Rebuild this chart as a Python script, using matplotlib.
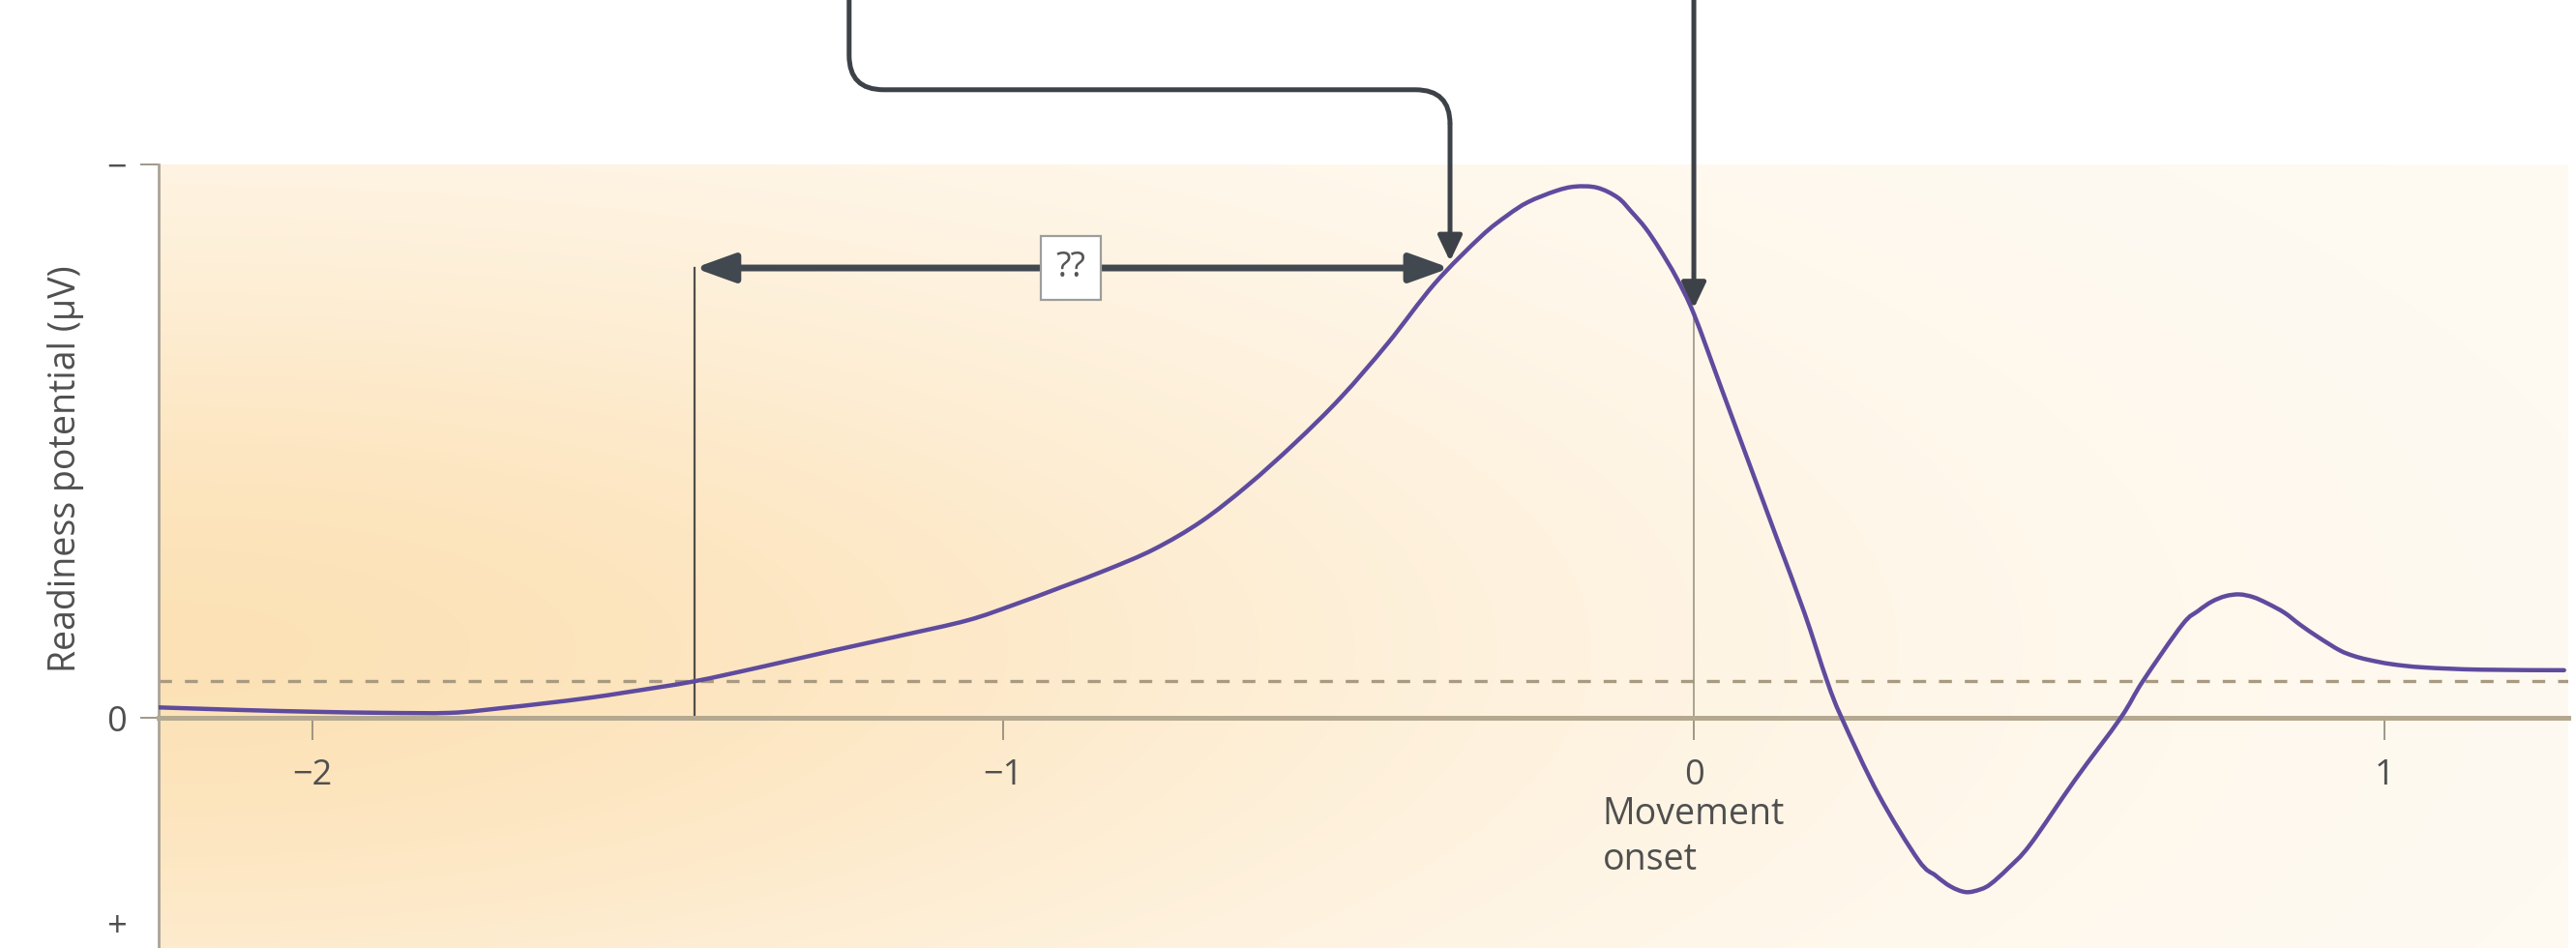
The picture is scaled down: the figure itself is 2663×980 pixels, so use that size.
import numpy as np
import matplotlib
matplotlib.use("Agg")
import matplotlib.pyplot as plt
from matplotlib.path import Path
from matplotlib.patches import PathPatch, FancyArrowPatch, ArrowStyle

plt.rcParams["font.family"] = ["Open Sans", "DejaVu Sans"]

# Averaged readiness potential (µV, negativity plotted upwards) around movement onset (s)
time_s = [-2.228, -2.10, -2.00, -1.90, -1.80, -1.73, -1.665, -1.60, -1.541, -1.447,
          -1.35, -1.248, -1.15, -1.052, -0.985, -0.916, -0.849, -0.781, -0.713, -0.646,
          -0.578, -0.511, -0.443, -0.375, -0.308, -0.27, -0.24, -0.20, -0.172, -0.14,
          -0.11, -0.09, -0.07, -0.05, -0.025, 0.0, 0.04, 0.08, 0.12, 0.16, 0.193, 0.214,
          0.267, 0.325, 0.35, 0.372, 0.394, 0.415, 0.43, 0.455, 0.487, 0.552, 0.618,
          0.65, 0.707, 0.73, 0.75, 0.77, 0.79, 0.81, 0.83, 0.855, 0.878, 0.905, 0.935,
          0.955, 0.976, 1.01, 1.057, 1.139, 1.26]
rp_uv = [-0.19, -0.14, -0.11, -0.09, -0.09, -0.17, -0.26, -0.36, -0.47, -0.66,
         -0.92, -1.21, -1.48, -1.76, -2.04, -2.36, -2.68, -3.05, -3.55, -4.20,
         -4.96, -5.79, -6.77, -7.85, -8.70, -9.08, -9.32, -9.52, -9.60, -9.58,
         -9.40, -9.14, -8.85, -8.48, -7.95, -7.30, -5.95, -4.60, -3.25, -1.90, -0.66, 0.0,
         1.38, 2.57, 2.85, 3.05, 3.15, 3.10, 3.00, 2.72, 2.29, 1.12, 0.0,
         -0.66, -1.68, -1.93, -2.10, -2.20, -2.23, -2.18, -2.07, -1.90, -1.68, -1.45, -1.22,
         -1.12, -1.05, -0.97, -0.91, -0.87, -0.86]
assert len(time_s) == len(rp_uv)

threshold_uv = -0.66          # dashed reference level
onset_time = -1.447           # where the potential leaves the baseline
awareness_time = -0.353       # reported time of conscious intention
x_ticks = [-2, -1, 0, 1]
x_tick_labels = ["\u22122", "\u22121", "0", "1"]
y_ticks = [-10, 0, 3.72]
y_tick_labels = ["\u2212", "0", "+"]


def smooth_path(xs, ys):
    """Cubic Bezier path passing through every sample (Catmull-Rom tangents)."""
    p = np.column_stack([xs, ys])
    n = len(p)
    verts = [tuple(p[0])]
    codes = [Path.MOVETO]
    for i in range(n - 1):
        p0 = p[i - 1] if i > 0 else p[i]
        p1, p2 = p[i], p[i + 1]
        p3 = p[i + 2] if i + 2 < n else p[i + 1]
        c1 = p1 + (p2 - p0) / 6.0
        c2 = p2 - (p3 - p1) / 6.0
        verts += [tuple(c1), tuple(c2), tuple(p2)]
        codes += [Path.CURVE4] * 3
    return Path(verts, codes)


W, H = 2663, 980
fig = plt.figure(figsize=(W / 100, H / 100), dpi=100)
fig.patch.set_facecolor("white")
ax = fig.add_axes([164 / W, 0, (2655 - 164) / W, 810 / H])

# warm background glow, strongest on the left around the baseline
nx, ny = 700, 250
xf = np.linspace(0, 1, nx)[None, :]
yf = np.linspace(0, 1, ny)[:, None]
w = np.exp(-(xf / 0.55) ** 2) * np.exp(-((yf - 0.38) / 0.55) ** 2)
base = np.array([1.0, 0.982, 0.952])
peak = np.array([0.99, 0.885, 0.715])
img = base + w[..., None] * (peak - base)
ax.imshow(img, extent=[0, 1, 0, 1], transform=ax.transAxes, origin="lower",
          aspect="auto", zorder=0, interpolation="bilinear")

ax.set_xlim(-2.2227, 1.266)
ax.set_ylim(4.16, -10)

# axes styling
for s in ("top", "right"):
    ax.spines[s].set_visible(False)
ax.spines["bottom"].set_position(("data", 0))
ax.spines["bottom"].set_color("#b4a990")
ax.spines["bottom"].set_linewidth(3.6)
ax.spines["left"].set_color("#a9a397")
ax.spines["left"].set_linewidth(2)

ax.set_xticks(x_ticks)
ax.set_xticklabels(x_tick_labels)
ax.tick_params(axis="x", direction="out", length=16.5, width=1.2, color="#8f8676",
               pad=14, labelsize=26, labelcolor="#4f4f4f")
ax.set_yticks(y_ticks)
ax.set_yticklabels(y_tick_labels)
ax.tick_params(axis="y", direction="out", length=14, width=1.2, color="#8f8676",
               pad=10, labelsize=26, labelcolor="#4f4f4f")
ax.yaxis.get_major_ticks()[2].tick1line.set_visible(False)

ax.text(0, 1.42, "Movement\nonset", ha="center", va="top", multialignment="left",
        fontsize=27, color="#4f4f4f", linespacing=1.3)
fig.text(68 / W, 1 - 485 / H, "Readiness potential (\u00b5V)", rotation=90,
         ha="center", va="center", fontsize=27, color="#4f4f4f")

# dashed threshold
ax.axhline(threshold_uv, color="#a89a80", lw=2.4, ls=(0, (4.0, 4.0)), zorder=2)

t_arr = np.array(time_s)
v_arr = np.array(rp_uv)
rp_at_zero = float(np.interp(0.0, t_arr, v_arr))
arrow_y = float(np.interp(awareness_time, t_arr, v_arr))

# guide lines
ax.plot([0, 0], [0, rp_at_zero], color="#9c9585", lw=1.2, zorder=2)
ax.plot([onset_time, onset_time], [0, arrow_y], color="#4f4e4a", lw=1.6, zorder=2)

# the readiness potential trace
trace = PathPatch(smooth_path(t_arr, v_arr), fill=False, ec="#5f4b9e", lw=3.2,
                  zorder=4, joinstyle="round", capstyle="round")
ax.add_patch(trace)

dark = "#3d4249"

# interval between onset and awareness
dbl = FancyArrowPatch((onset_time, arrow_y), (awareness_time, arrow_y),
                      arrowstyle=ArrowStyle("<|-|>", head_length=1.0, head_width=0.36),
                      mutation_scale=25, lw=5, color="#414850", shrinkA=0, shrinkB=0,
                      zorder=5, capstyle="butt")
ax.add_patch(dbl)
ax.text(-0.902, arrow_y, "??", ha="center", va="center", fontsize=26, color="#555555",
        zorder=6, bbox=dict(boxstyle="square,pad=0.42", fc="white", ec="#9d9d9d", lw=1.6))

# elbow arrow coming from above to the awareness point
tA = -1.223
yh = -11.35
rt, rv = 0.05, 0.62
top_v = -13.5
verts = [(tA, top_v), (tA, yh - rv), (tA, yh), (tA + rt, yh),
         (awareness_time - rt, yh), (awareness_time, yh), (awareness_time, yh + rv)]
codes = [Path.MOVETO, Path.LINETO, Path.CURVE3, Path.CURVE3,
         Path.LINETO, Path.CURVE3, Path.CURVE3]
elbow = PathPatch(Path(verts, codes), fill=False, ec=dark, lw=3.6, zorder=5,
                  clip_on=False, capstyle="butt")
ax.add_patch(elbow)
tipA = FancyArrowPatch((awareness_time, yh + rv), (awareness_time, arrow_y - 0.12),
                       arrowstyle=ArrowStyle("-|>", head_length=0.8, head_width=0.38),
                       mutation_scale=20, lw=3.6, color=dark, shrinkA=0, shrinkB=0,
                       zorder=5, clip_on=False)
ax.add_patch(tipA)

# straight arrow to movement onset
tipB = FancyArrowPatch((0, top_v), (0, rp_at_zero - 0.1),
                       arrowstyle=ArrowStyle("-|>", head_length=0.8, head_width=0.38),
                       mutation_scale=20, lw=3.6, color=dark, shrinkA=0, shrinkB=0,
                       zorder=5, clip_on=False)
ax.add_patch(tipB)

fig.savefig("out.png", dpi=100, facecolor="white")
